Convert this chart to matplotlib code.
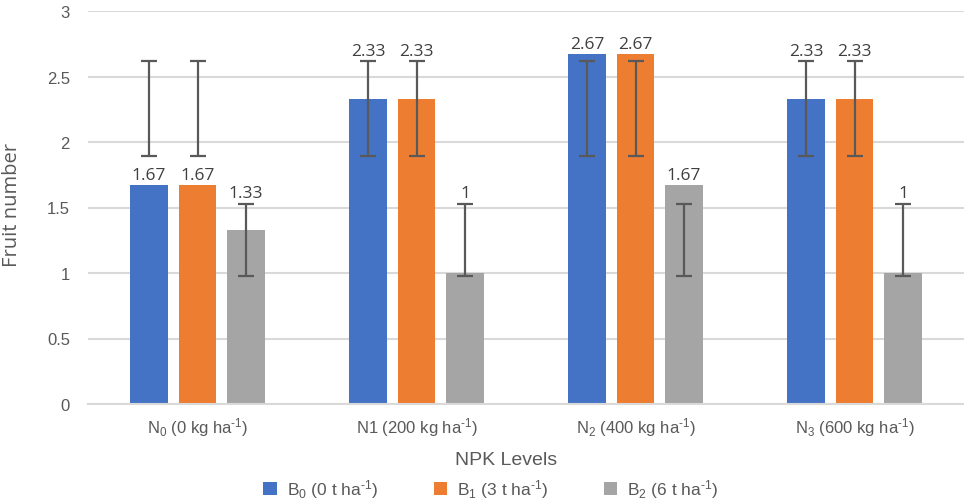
import matplotlib
matplotlib.use("Agg")
import matplotlib.pyplot as plt
import numpy as np

categories = [r'$\mathregular{N_0}$ (0 kg ha$\mathregular{^{\text{-}1}}$)',
              r'N1 (200 kg ha$\mathregular{^{\text{-}1}}$)',
              r'$\mathregular{N_2}$ (400 kg ha$\mathregular{^{\text{-}1}}$)',
              r'$\mathregular{N_3}$ (600 kg ha$\mathregular{^{\text{-}1}}$)']
series_names = [r'$\mathregular{B_0}$ (0 t ha$\mathregular{^{\text{-}1}}$)',
                r'$\mathregular{B_1}$ (3 t ha$\mathregular{^{\text{-}1}}$)',
                r'$\mathregular{B_2}$ (6 t ha$\mathregular{^{\text{-}1}}$)']
b0 = [1.67, 2.33, 2.67, 2.33]
b1 = [1.67, 2.33, 2.67, 2.33]
b2 = [1.33, 1.00, 1.67, 1.00]
b0_err_low = [1.89, 1.89, 1.89, 1.89]
b0_err_high = [2.62, 2.62, 2.62, 2.62]
b1_err_low = [1.89, 1.89, 1.89, 1.89]
b1_err_high = [2.62, 2.62, 2.62, 2.62]
b2_err_low = [0.98, 0.98, 0.98, 0.98]
b2_err_high = [1.53, 1.53, 1.53, 1.53]
value_labels = [['1.67', '2.33', '2.67', '2.33'],
                ['1.67', '2.33', '2.67', '2.33'],
                ['1.33', '1', '1.67', '1']]
colors = ['#4472C4', '#ED7D31', '#A5A5A5']

narrow = 'Liberation Sans'
plt.rcParams['mathtext.fontset'] = 'custom'
plt.rcParams['mathtext.rm'] = narrow
plt.rcParams['font.family'] = [narrow, 'DejaVu Sans']

fig = plt.figure(figsize=(9.64, 5.02), dpi=100)
ax = fig.add_axes([88/964, 1 - 405/502, (964-88)/964, (405-12)/502])

series = [b0, b1, b2]
lows = [b0_err_low, b1_err_low, b2_err_low]
highs = [b0_err_high, b1_err_high, b2_err_high]
x = np.arange(len(categories))
pitch = 0.2215
width = 0.1735
for i, (vals, lo, hi) in enumerate(zip(series, lows, highs)):
    xs = x + (i - 1) * pitch
    ax.bar(xs, vals, width, color=colors[i], label=series_names[i], zorder=2)
    mid = [(a + b) / 2 for a, b in zip(lo, hi)]
    half = [(b - a) / 2 for a, b in zip(lo, hi)]
    ax.errorbar(xs, mid, yerr=half, fmt='none', ecolor='#595959',
                elinewidth=1.6, capsize=5.5, capthick=1.6, zorder=3)
    for xi, v, l, h, t in zip(xs, vals, lo, hi, value_labels[i]):
        top = h if l <= v <= h else v
        ax.annotate(t, (xi, top), xytext=(0, 1.5), textcoords='offset points',
                    ha='center', va='bottom', fontsize=12.5, color='#404040',
                    family=['Open Sans', 'DejaVu Sans'], zorder=4)

ax.set_ylim(0, 3)
ax.set_xlim(-0.5, 3.5)
ax.set_yticks([0, 0.5, 1, 1.5, 2, 2.5, 3])
ax.set_yticklabels(['0', '0.5', '1', '1.5', '2', '2.5', '3'])
ax.set_xticks(x)
ax.set_xticklabels(categories)
ax.yaxis.grid(True, color='#D9D9D9', linewidth=1.5, zorder=0)
ax.set_axisbelow(True)
for s in ['top', 'right', 'left']:
    ax.spines[s].set_visible(False)
ax.spines['bottom'].set_color('#D9D9D9')
ax.spines['bottom'].set_linewidth(1.5)
ax.tick_params(axis='both', length=0, labelsize=12, colors='#595959')
ax.tick_params(axis='y', pad=13)
ax.tick_params(axis='x', pad=8)

fig.text(12/964, 1 - 205/502, 'Fruit number', rotation=90, ha='center', va='center',
         fontsize=14.5, color='#595959', family=['Open Sans', 'DejaVu Sans'])
fig.text(506/964, 1 - 461/502, 'NPK Levels', ha='center', va='center',
         fontsize=14, color='#595959')
leg = fig.legend(loc='center', bbox_to_anchor=(491/964, 1 - 490/502), ncol=3,
                 frameon=False, fontsize=12.5, handlelength=0.75, handleheight=0.75,
                 columnspacing=3.2, handletextpad=0.6, labelcolor='#595959')

fig.savefig('out.png', dpi=100)
